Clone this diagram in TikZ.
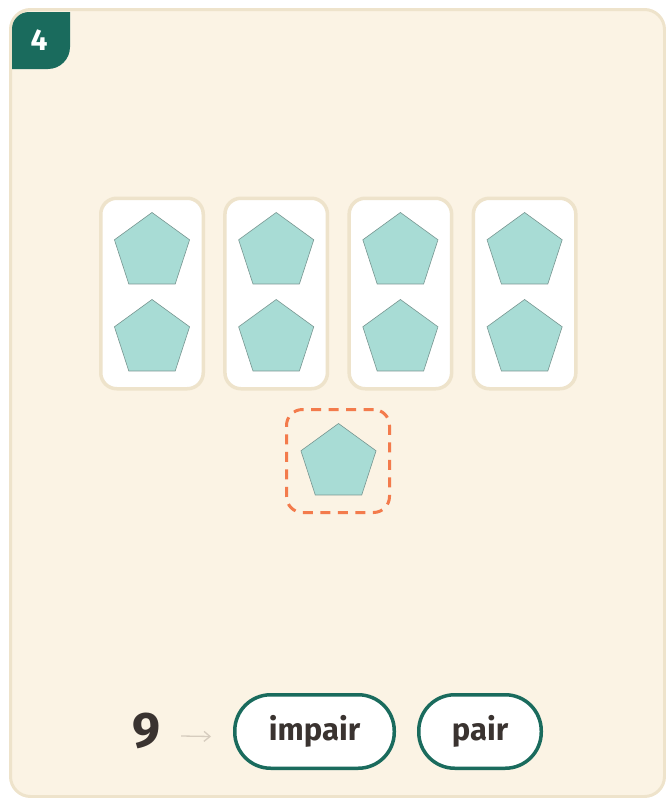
\documentclass[tikz,border=0pt]{standalone}
\usepackage{fontspec}
\setmainfont{Fira Sans}
\usepackage{tikz}
\usetikzlibrary{arrows.meta,shapes.geometric,positioning}
\definecolor{bgcol}{RGB}{251,243,228}
\definecolor{cardcol}{RGB}{238,227,203}
\definecolor{greencol}{RGB}{26,107,93}
\definecolor{pentcol}{RGB}{168,220,213}
\definecolor{pentedge}{RGB}{120,150,145}
\definecolor{dashcol}{RGB}{243,123,76}
\definecolor{inkcol}{RGB}{58,51,48}
\definecolor{arrowcol}{RGB}{214,204,190}

\begin{document}
\begin{tikzpicture}[x=1pt,y=-1pt,>={Straight Barb[length=6pt,width=10pt]},
  cardbox/.style={draw=cardcol,line width=3.5pt,fill=white,rounded corners=16pt,
    minimum width=102.5pt,minimum height=190.5pt,inner sep=0pt},
  penta/.style={regular polygon,regular polygon sides=5,minimum size=79pt,inner sep=0pt,
    fill=pentcol,draw=pentedge,line width=0.6pt},
  pill/.style={draw=greencol,line width=3.5pt,fill=white,rounded corners=36pt,
    minimum height=73.5pt,inner sep=0pt,text=inkcol,font=\fontsize{31}{31}\selectfont\bfseries}]
\useasboundingbox (0,0) rectangle (666,798);
% frame and number badge
\draw[draw=cardcol,fill=bgcol,line width=3pt,rounded corners=20pt] (10.5,9.5) rectangle (664.5,796.5);
\fill[greencol] (12,69) -- (12,29) arc[start angle=180,end angle=270,radius=17] -- (70,12)
  -- (70,47) arc[start angle=0,end angle=90,radius=22] -- cycle;
\node[text=white,font=\fontsize{30}{30}\selectfont\bfseries] (badge) at (39,40) {4};
% four pairs
\foreach \i in {0,1,2,3} {
  \node[cardbox] (card\i) at ({152+124.2*\i},293.5) {};
  \node[penta] (top\i) at ({152+124.2*\i},252) {};
  \node[penta] (bot\i) at ({152+124.2*\i},339) {};
}
% the one left over
\node[draw=dashcol,line width=3pt,dash pattern=on 10pt off 7.5pt,rounded corners=16pt,
  minimum size=103pt,inner sep=0pt] (spare) at (338,461) {};
\node[penta] (sparepent) at (338.5,463) {};
% answer
\node[text=inkcol,font=\fontsize{50}{50}\selectfont\bfseries,inner sep=0pt] (nine) at (146,731) {9};
\node[pill,minimum width=159.5pt] (impair) at (314.5,731.5) {impair};
\node[pill,minimum width=122.5pt] (pair) at (480,731.5) {pair};
\draw[->,arrowcol,line width=1.3pt] ([shift={(21,5)}]nine.east) -- ([shift={(-22,5)}]impair.west);
\end{tikzpicture}
\end{document}
